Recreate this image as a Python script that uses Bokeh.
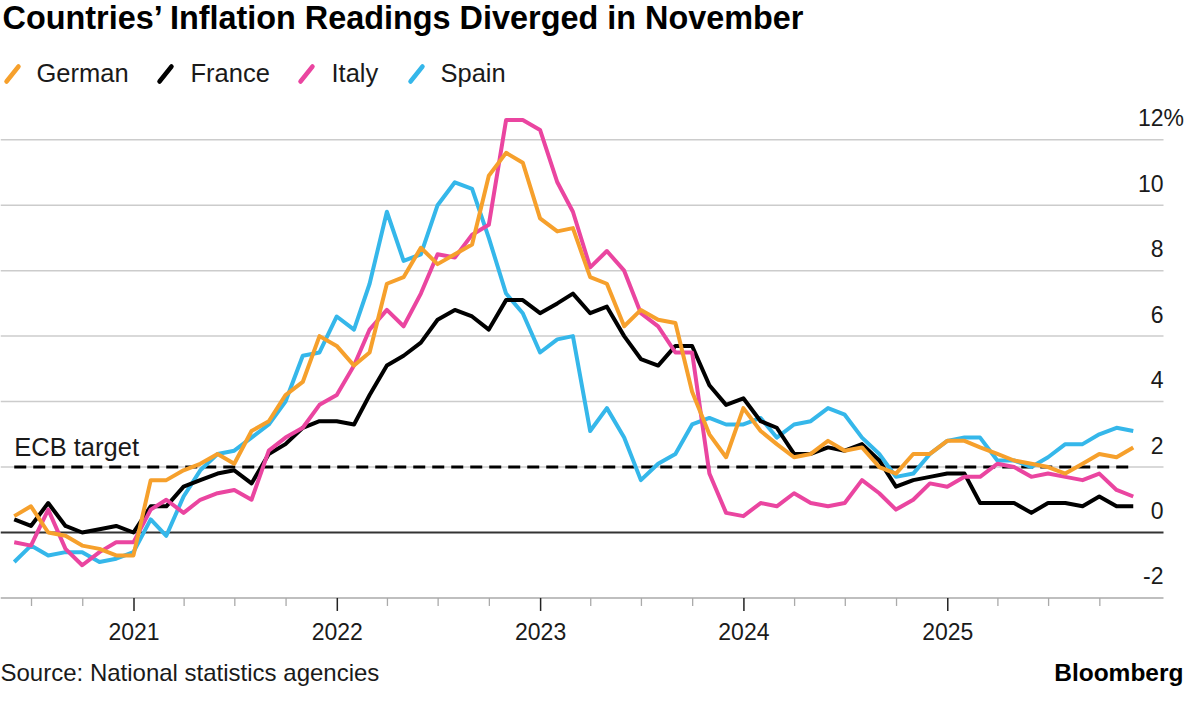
import pandas as pd
from bokeh.plotting import figure
from bokeh.models import Range1d
from bokeh.embed import file_html
from bokeh.resources import INLINE
from bokeh.core.properties import value

# ---------------- data (monthly, May 2020 - Nov 2025, % y/y) ----------------
months = pd.date_range("2020-05-01", periods=67, freq="MS") + pd.offsets.MonthEnd(0)

german = [0.5, 0.8, 0.0, -0.1, -0.4, -0.5, -0.7, -0.7,
          1.6, 1.6, 1.9, 2.1, 2.4, 2.1, 3.1, 3.4, 4.2, 4.6, 6.0, 5.7,
          5.1, 5.5, 7.6, 7.8, 8.7, 8.2, 8.5, 8.8, 10.9, 11.6, 11.3, 9.6,
          9.2, 9.3, 7.8, 7.6, 6.3, 6.8, 6.5, 6.4, 4.3, 3.0, 2.3, 3.8,
          3.1, 2.7, 2.3, 2.4, 2.8, 2.5, 2.6, 2.0, 1.8, 2.4, 2.4, 2.8,
          2.8, 2.6, 2.4, 2.2, 2.1, 2.0, 1.8, 2.1, 2.4, 2.3, 2.6]
france = [0.4, 0.2, 0.9, 0.2, 0.0, 0.1, 0.2, 0.0,
          0.8, 0.8, 1.4, 1.6, 1.8, 1.9, 1.5, 2.4, 2.7, 3.2, 3.4, 3.4,
          3.3, 4.2, 5.1, 5.4, 5.8, 6.5, 6.8, 6.6, 6.2, 7.1, 7.1, 6.7,
          7.0, 7.3, 6.7, 6.9, 6.0, 5.3, 5.1, 5.7, 5.7, 4.5, 3.9, 4.1,
          3.4, 3.2, 2.4, 2.4, 2.6, 2.5, 2.7, 2.2, 1.4, 1.6, 1.7, 1.8,
          1.8, 0.9, 0.9, 0.9, 0.6, 0.9, 0.9, 0.8, 1.1, 0.8, 0.8]
italy = [-0.3, -0.4, 0.7, -0.5, -1.0, -0.6, -0.3, -0.3,
         0.7, 1.0, 0.6, 1.0, 1.2, 1.3, 1.0, 2.5, 2.9, 3.2, 3.9, 4.2,
         5.1, 6.2, 6.8, 6.3, 7.3, 8.5, 8.4, 9.1, 9.4, 12.6, 12.6, 12.3,
         10.7, 9.8, 8.1, 8.6, 8.0, 6.7, 6.3, 5.5, 5.5, 1.8, 0.6, 0.5,
         0.9, 0.8, 1.2, 0.9, 0.8, 0.9, 1.6, 1.2, 0.7, 1.0, 1.5, 1.4,
         1.7, 1.7, 2.1, 2.0, 1.7, 1.8, 1.7, 1.6, 1.8, 1.3, 1.1]
spain = [-0.9, -0.4, -0.7, -0.6, -0.6, -0.9, -0.8, -0.6,
         0.4, -0.1, 1.1, 1.9, 2.4, 2.5, 2.9, 3.3, 4.0, 5.4, 5.5, 6.6,
         6.2, 7.6, 9.8, 8.3, 8.5, 10.0, 10.7, 10.5, 9.0, 7.3, 6.7, 5.5,
         5.9, 6.0, 3.1, 3.8, 2.9, 1.6, 2.1, 2.4, 3.3, 3.5, 3.3, 3.3,
         3.5, 2.9, 3.3, 3.4, 3.8, 3.6, 2.9, 2.4, 1.7, 1.8, 2.4, 2.8,
         2.9, 2.9, 2.2, 2.2, 2.0, 2.3, 2.7, 2.7, 3.0, 3.2, 3.1]

series_names = ["German", "France", "Italy", "Spain"]
ecb_target = 2.0
y_ticks = [-2, 0, 2, 4, 6, 8, 10, 12]
y_tick_labels = ["-2", "0", "2", "4", "6", "8", "10", "12"]
year_ticks = [pd.Timestamp(f"{y}-01-01") for y in range(2021, 2026)]
year_labels = [str(y) for y in range(2021, 2026)]
quarter_ticks = [d for d in pd.date_range("2020-07-01", "2025-10-01", freq="QS") if d.month != 1]

title_text = "Countries\u2019 Inflation Readings Diverged in November"
source_text = "Source: National statistics agencies"
brand_text = "Bloomberg"
ecb_text = "ECB target"

# ---------------- style / layout ----------------
colors = {"German": "#F6A02C", "France": "#000000", "Italy": "#EA45A0", "Spain": "#35B7EA"}
FONT = value("Liberation Sans")
TXT = "#1a1a1a"

W, H = 1184, 688
PX_DAY = 0.557            # horizontal pixels per day
JAN21_PX = 133.5          # pixel position of 1 Jan 2021
PX_UNIT = 32.73           # vertical pixels per percentage point
ZERO_PX = 532.0           # pixel position of 0 %
GRID_END = 1163.0         # right end of gridlines / tick labels
BASE_FIX = 0.41           # empirical baseline correction (fraction of font size)

x_start = pd.Timestamp("2021-01-01") - pd.Timedelta(days=JAN21_PX / PX_DAY)
x_end = x_start + pd.Timedelta(days=W / PX_DAY)
y_top = ZERO_PX / PX_UNIT
y_bot = -(H - ZERO_PX) / PX_UNIT

def X(px):
    return x_start + pd.Timedelta(days=px / PX_DAY)

def Y(py):
    return (ZERO_PX - py) / PX_UNIT

def DY(dpx):
    return dpx / PX_UNIT

def fix(size):
    return DY(BASE_FIX * size)

p = figure(width=W, height=H, x_axis_type="datetime",
           x_axis_location=None, y_axis_location=None,
           x_range=Range1d(x_start, x_end), y_range=Range1d(y_bot, y_top),
           output_backend="svg", toolbar_location=None,
           min_border=0, min_border_left=0, min_border_right=0,
           min_border_top=0, min_border_bottom=0)
p.outline_line_color = None
p.xgrid.visible = False
p.ygrid.visible = False
p.background_fill_color = "white"
p.border_fill_color = "white"

def txt(xs, ys, texts, size, align="left", bold=False, color=TXT):
    p.text(x=xs, y=[v + fix(size) for v in ys], text=texts, text_align=align,
           text_baseline="alphabetic", text_font=FONT, text_font_size=f"{size}px",
           text_font_style="bold" if bold else "normal", text_color=color)

# horizontal gridlines (2..12)
grid_vals = [t for t in y_ticks if t > 0]
p.segment(x0=[X(0)] * len(grid_vals), x1=[X(GRID_END)] * len(grid_vals),
          y0=grid_vals, y1=grid_vals, line_color="#cccccc", line_width=1.5)

# bottom axis line at -2 with ticks
p.segment(x0=[X(0)], x1=[X(GRID_END)], y0=[y_ticks[0]], y1=[y_ticks[0]],
          line_color="#aaaaaa", line_width=1.5)
p.segment(x0=quarter_ticks, x1=quarter_ticks, y0=[y_ticks[0]] * len(quarter_ticks),
          y1=[y_ticks[0] - DY(8)] * len(quarter_ticks), line_color="#aaaaaa", line_width=1.3)
p.segment(x0=year_ticks, x1=year_ticks, y0=[y_ticks[0]] * len(year_ticks),
          y1=[y_ticks[0] - DY(13)] * len(year_ticks), line_color="#222222", line_width=1.5)
txt(year_ticks, [y_ticks[0] - DY(42.5)] * len(year_ticks), year_labels, 23, align="center")

# zero line
p.segment(x0=[X(0)], x1=[X(GRID_END)], y0=[0], y1=[0], line_color="#333333", line_width=2)

# y tick labels (right, sitting above gridlines)
txt([X(GRID_END)] * len(y_ticks), [t + DY(12.6) for t in y_ticks], y_tick_labels, 23, align="right")
txt([X(GRID_END)], [y_ticks[-1] + DY(12.6)], ["%"], 23, align="left")

# ECB target
p.line(x=[months[0], months[-1]], y=[ecb_target, ecb_target], line_color="black",
       line_width=3, line_dash="12 7")
txt([months[0]], [ecb_target + DY(9.5)], [ecb_text], 25.5)

# series lines (orange on top)
data = {"German": german, "France": france, "Italy": italy, "Spain": spain}
for name in ["Spain", "France", "Italy", "German"]:
    p.line(x=months, y=data[name], line_color=colors[name], line_width=4, line_join="round")

# title
txt([X(2)], [Y(31)], [title_text], 32.4, bold=True, color="black")

# legend
slash_x = [6, 159, 300, 410]
label_x = [36, 190, 331, 440]
for name, sx, lx in zip(series_names, slash_x, label_x):
    p.segment(x0=[X(sx)], y0=[Y(81)], x1=[X(sx + 12)], y1=[Y(66)],
              line_color=colors[name], line_width=4.5, line_cap="round")
    txt([X(lx)], [Y(83)], [name], 25.5)

# footer
txt([X(0)], [Y(682)], [source_text], 24)
txt([X(1183)], [Y(682)], [brand_text], 24.5, align="right", bold=True, color="black")

open("out.html", "w").write(file_html(p, INLINE))
